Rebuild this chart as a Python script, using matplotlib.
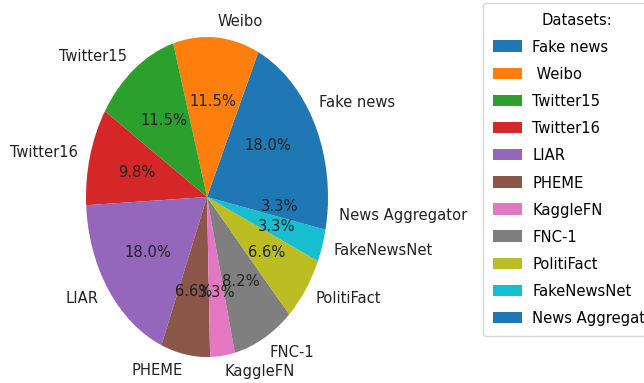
import matplotlib
matplotlib.use("Agg")
import matplotlib.pyplot as plt

names = ["Fake news", " Weibo", "Twitter15", "Twitter16", "LIAR", "PHEME",
         "KaggleFN", "FNC-1", "PolitiFact", "FakeNewsNet", "News Aggregator"]
pie_labels = ["Fake news", "Weibo", "Twitter15", "Twitter16", "LIAR", "PHEME",
              "KaggleFN", "FNC-1", "PolitiFact", "FakeNewsNet", "News Aggregator"]
counts = [11, 7, 7, 6, 11, 4, 2, 5, 4, 2, 2]

plt.rcParams['font.family'] = ['DejaVu Sans']
plt.rcParams['font.stretch'] = 'condensed'

W, H = 644, 383
fig = plt.figure(figsize=(W / 100, H / 100), dpi=100)
cx, cy, rx, ry = 207, 197, 121, 160
ax = fig.add_axes([(cx - rx) / W, (H - cy - ry) / H, 2 * rx / W, 2 * ry / H])
colors = [plt.cm.tab10(i % 10) for i in range(len(counts))]
wedges, texts, autotexts = ax.pie(counts, labels=pie_labels, colors=colors,
                                  autopct='%1.1f%%', startangle=0,
                                  textprops={'fontsize': 11.8, 'color': '#222222'})
ax.set_aspect('auto')
ax.set_xlim(-1, 1)
ax.set_ylim(-1, 1)

leg = fig.legend(wedges, names, title="Datasets:", loc='upper left',
                 bbox_to_anchor=(483 / W, 1 - 3 / H), borderaxespad=0,
                 fontsize=11.8, title_fontsize=11.8, labelspacing=0.74,
                 handlelength=1.8, handleheight=0.7, borderpad=0.6,
                 handletextpad=0.6, frameon=True, fancybox=True)
leg.get_frame().set_edgecolor('#cccccc')

fig.savefig("out.png", dpi=100)
